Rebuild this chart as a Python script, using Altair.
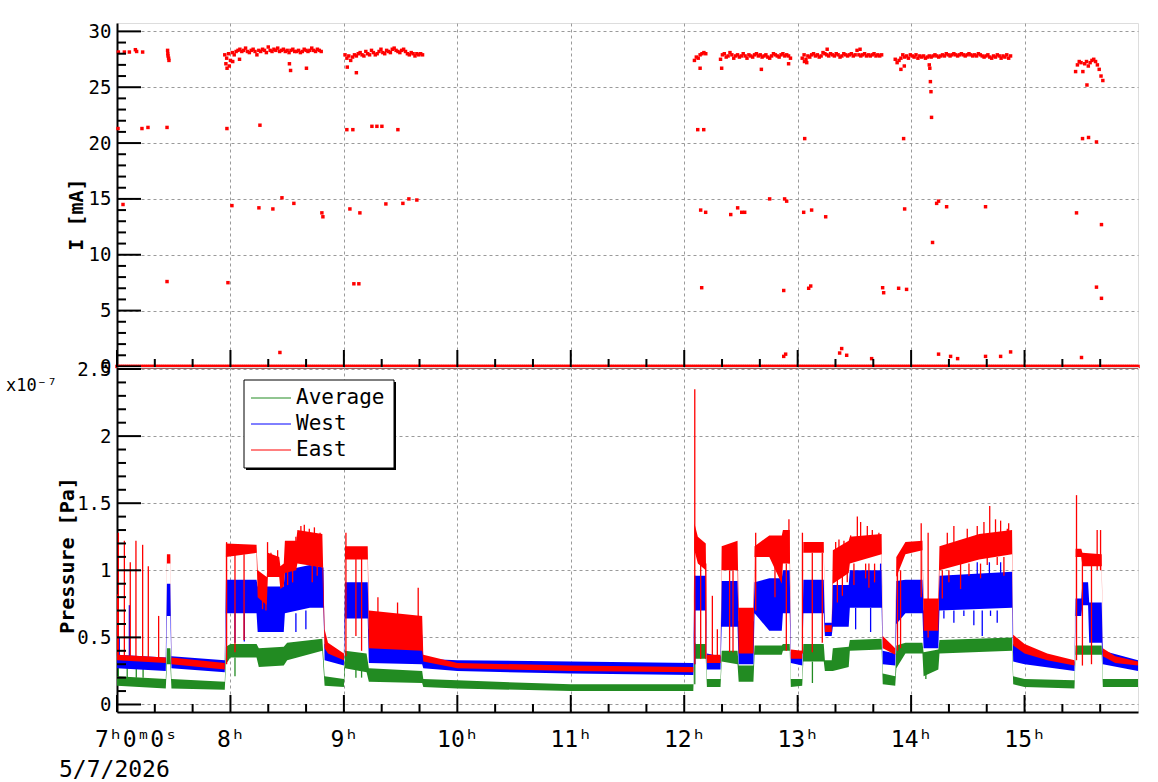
import altair as alt
import numpy as np
import pandas as pd

FONT = "DejaVu Sans Mono"
RED, BLUE, GREEN = "#ff0000", "#0000ff", "#228b22"

# ---------------- current I [mA] (top panel) ----------------
# sampling times of the 0 mA readings (every minute 7:00-16:00)
ZERO_T = list(np.arange(7.0, 16.0001, 1 / 60))

# dense beam-on clusters: (start hour, values every minute)
C3_START = 7.95
C3 = [27.9, 27.6, 28.0, 27.4, 28.1, 27.9, 28.2, 28.3, 28.4, 28.2, 28.3, 28.5, 28.2, 28.1, 28.3, 28.4,
      28.2, 27.9, 28.3, 28.2, 28.4, 28.3, 28.1, 28.6, 28.3, 28.2, 28.4, 28.3, 28.5, 28.2, 28.3, 28.4,
      28.2, 28.3, 28.1, 28.3, 28.4, 28.2, 28.2, 28.3, 28.1, 28.2, 28.4, 28.3, 28.2, 28.3, 28.5, 28.3,
      28.2, 28.4, 28.3, 28.2]
C4_START = 9.01
C4 = [27.9, 27.6, 27.8, 27.4, 27.7, 27.9, 27.8, 28.0, 28.1, 27.9, 27.8, 28.2, 28.0, 27.9, 28.3, 28.1,
      27.9, 28.0, 28.2, 28.4, 28.1, 28.0, 28.3, 28.2, 28.1, 28.4, 28.5, 28.3, 28.2, 28.1, 28.3, 28.4,
      28.2, 28.0, 27.9, 28.1, 28.0, 27.8, 28.0, 27.9, 28.0, 27.9]
C5_START = 12.09
C5 = [27.4, 27.7, 27.6, 27.9, 28.0, 28.1, 28.0]
C6_START = 12.32
C6 = [27.5, 27.9, 28.0, 27.7, 27.8, 28.1, 27.9, 27.6, 27.8, 27.9, 27.7, 27.8, 28.0, 27.8, 27.6, 27.9,
      27.8, 27.7, 27.9, 28.0, 27.8, 27.9, 27.7, 27.8, 27.9, 27.7, 27.6, 27.8, 28.0, 27.9, 27.8, 27.7,
      27.9, 28.0, 27.8, 27.9, 27.8, 27.6]
C7_START = 13.04
C7 = [27.6, 27.9, 27.5, 27.8, 27.7, 27.9, 28.0, 27.8, 27.9, 27.7, 27.8, 28.1, 28.0, 27.9, 27.8, 28.0,
      27.9, 27.8, 28.0, 27.9, 27.7, 27.8, 28.0, 27.9, 27.8, 27.9, 28.0, 27.8, 27.9, 28.3, 27.9, 27.8,
      27.9, 28.0, 27.8, 27.9, 27.8, 27.9, 28.0, 27.8, 27.9, 27.8, 27.9]
C8_START = 13.86
C8 = [27.5, 27.2, 27.4, 27.6, 27.9, 27.7, 27.8, 27.6, 27.9, 27.8, 27.7, 27.9, 27.6, 27.8, 27.7, 27.8,
      27.6, 27.7, 27.8, 27.7, 27.8, 27.9, 27.8, 27.7, 27.8, 27.9, 27.8, 28.0, 27.9, 27.8, 27.9, 28.0,
      27.9, 27.8, 27.9, 28.0, 27.9, 27.8, 27.9, 28.0, 27.9, 27.8, 27.9, 27.8, 28.0, 27.9, 27.8, 27.7,
      27.8, 27.9, 27.7, 27.6, 27.8, 27.7, 27.9, 27.8, 27.6, 27.8, 27.7, 27.9, 27.6, 27.8]
C9_START = 15.45
C9 = [26.4, 27.0, 27.3, 27.2, 26.4, 27.1, 27.3, 26.9, 27.2, 27.4, 27.5, 27.3, 27.0, 26.6, 26.0, 25.6]

# isolated readings (hour, mA)
ISO_T = [7.012, 7.065, 7.109, 7.162, 7.173, 7.226, 7.446, 7.448, 7.450, 7.455, 7.458,
         7.96, 7.97, 7.99, 8.02, 8.08, 8.52, 8.53, 8.67, 9.03, 9.11, 12.14, 12.33, 12.68, 12.92,
         13.06, 13.08, 13.26, 13.55, 13.91, 13.94, 14.16, 14.165, 14.17, 14.175, 14.18, 15.55,
         7.009, 7.053, 7.220, 7.273, 7.441, 7.441, 7.969, 7.978, 8.013, 8.260, 8.251, 8.374, 8.454,
         8.559, 8.436, 8.806, 8.815, 9.026, 9.079, 9.053, 9.141, 9.088, 9.132, 9.247, 9.291, 9.335,
         9.370, 9.476, 9.520, 9.573, 9.643, 12.119, 12.172, 12.145, 12.189, 12.154, 12.410, 12.471,
         12.507, 12.533, 12.753, 12.885, 12.903, 12.877, 12.877, 12.894, 13.062, 13.053, 13.123,
         13.247, 13.097, 13.115, 13.388, 13.370, 13.432, 13.652, 13.749, 13.758, 13.934, 13.943,
         13.890, 13.960, 14.189, 14.225, 14.242, 14.313, 14.242, 14.348, 14.410, 14.656, 14.656,
         14.789, 14.877, 15.458, 15.511, 15.564, 15.634, 15.678, 15.634, 15.678, 15.502]
ISO_I = [28.15, 28.15, 28.15, 28.36, 28.2, 28.15, 28.3, 28.0, 27.8, 27.6, 27.4,
         27.1, 26.7, 26.9, 27.3, 27.5, 27.1, 26.5, 26.7, 26.8, 26.3, 26.7, 26.7, 26.6, 27.1,
         27.3, 27.2, 28.4, 28.4, 26.6, 26.9, 27.0, 26.7, 25.5, 24.6, 22.3, 25.2,
         21.3, 14.5, 21.3, 21.4, 21.4, 7.6, 21.3, 7.5, 14.4, 21.6, 14.2, 14.1, 15.1,
         14.6, 1.25, 13.75, 13.4, 21.2, 21.2, 14.1, 13.75, 7.4, 7.4, 21.5, 21.5, 21.5,
         14.55, 21.2, 14.6, 15.0, 14.9, 21.2, 21.2, 14.0, 13.8, 7.05, 13.6, 14.2,
         13.8, 13.8, 15.0, 15.0, 14.8, 6.8, 0.9, 1.1, 20.4, 13.8, 14.0,
         13.4, 7.0, 7.2, 1.6, 1.2, 1.0, 0.7, 7.05, 6.6, 20.4, 14.1,
         7.0, 6.9, 11.1, 14.6, 14.8, 14.3, 1.1, 0.9, 0.7, 14.3, 0.9,
         0.9, 1.3, 13.75, 20.4, 20.5, 20.1, 12.7, 7.1, 6.1, 0.8]

# ---------------- pressure [1e-7 Pa] (bottom panel): dense-band envelope lo/hi ----------------
G_T = [7.00, 7.43, 7.44, 7.47, 7.48, 7.95, 7.96, 8.00, 8.23, 8.25, 8.47, 8.50, 8.81, 8.83, 9.00, 9.01,
       9.20, 9.22, 9.69, 9.70, 10.0, 11.0, 12.08, 12.09, 12.19, 12.20, 12.32, 12.33, 12.47, 12.48,
       12.61, 12.62, 12.86, 12.87, 12.93, 12.94, 13.04, 13.05, 13.23, 13.24, 13.30, 13.31, 13.45,
       13.46, 13.74, 13.75, 13.86, 13.87, 13.95, 14.10, 14.11, 14.24, 14.25, 14.89, 14.90, 15.0,
       15.44, 15.45, 15.68, 15.69, 16.0]
G_LO = [0.14, 0.12, 0.30, 0.30, 0.12, 0.11, 0.30, 0.35, 0.35, 0.28, 0.29, 0.33, 0.40, 0.14, 0.13, 0.27,
        0.24, 0.17, 0.16, 0.13, 0.12, 0.10, 0.10, 0.34, 0.34, 0.13, 0.13, 0.32, 0.30, 0.17,
        0.17, 0.37, 0.37, 0.40, 0.40, 0.13, 0.14, 0.32, 0.32, 0.25, 0.25, 0.25, 0.28,
        0.40, 0.41, 0.15, 0.14, 0.27, 0.38, 0.38, 0.21, 0.26, 0.38, 0.40, 0.15, 0.13,
        0.12, 0.37, 0.37, 0.13, 0.13]
G_HI = [0.21, 0.19, 0.42, 0.42, 0.19, 0.17, 0.43, 0.45, 0.45, 0.42, 0.43, 0.46, 0.49, 0.21, 0.19, 0.40,
        0.38, 0.27, 0.25, 0.19, 0.18, 0.15, 0.15, 0.45, 0.45, 0.19, 0.19, 0.40, 0.40, 0.29,
        0.29, 0.44, 0.44, 0.45, 0.45, 0.19, 0.19, 0.45, 0.45, 0.33, 0.33, 0.42, 0.43,
        0.48, 0.49, 0.23, 0.21, 0.44, 0.46, 0.46, 0.39, 0.41, 0.48, 0.50, 0.21, 0.19,
        0.18, 0.44, 0.44, 0.19, 0.19]

W_T = [7.00, 7.43, 7.44, 7.47, 7.48, 7.95, 7.96, 8.23, 8.24, 8.47, 8.48, 8.70, 8.82, 8.83, 9.00, 9.01,
       9.21, 9.22, 9.69, 9.70, 10.0, 11.0, 12.08, 12.09, 12.19, 12.20, 12.32, 12.33, 12.47, 12.48,
       12.61, 12.62, 12.75, 12.86, 12.87, 12.93, 12.94, 13.04, 13.05, 13.23, 13.24, 13.30, 13.31,
       13.45, 13.46, 13.74, 13.75, 13.86, 13.87, 13.95, 14.10, 14.11, 14.24, 14.25, 14.89, 14.90,
       15.0, 15.44, 15.45, 15.50, 15.51, 15.56, 15.57, 15.68, 15.69, 16.0]
W_LO = [0.27, 0.25, 0.66, 0.66, 0.27, 0.24, 0.68, 0.68, 0.54, 0.54, 0.68, 0.72, 0.72, 0.33, 0.29, 0.64,
        0.64, 0.31, 0.30, 0.27, 0.25, 0.23, 0.22, 0.70, 0.70, 0.26, 0.26, 0.58, 0.58, 0.30,
        0.30, 0.68, 0.55, 0.55, 0.68, 0.68, 0.31, 0.29, 0.68, 0.68, 0.51, 0.51, 0.58,
        0.58, 0.72, 0.72, 0.30, 0.29, 0.60, 0.68, 0.68, 0.42, 0.42, 0.70, 0.72, 0.32,
        0.30, 0.25, 0.66, 0.66, 0.74, 0.74, 0.46, 0.46, 0.30, 0.25]
W_HI = [0.37, 0.35, 0.90, 0.90, 0.36, 0.33, 0.93, 0.93, 0.88, 0.88, 1.00, 1.04, 1.02, 0.45, 0.37, 0.91,
        0.91, 0.56, 0.52, 0.34, 0.33, 0.32, 0.31, 0.96, 0.96, 0.38, 0.36, 0.92, 0.92, 0.62,
        0.62, 0.91, 0.94, 0.94, 1.00, 1.00, 0.39, 0.40, 0.93, 0.93, 0.61, 0.61, 0.89,
        0.89, 1.00, 1.00, 0.40, 0.38, 0.92, 0.93, 0.93, 0.70, 0.70, 0.96, 0.99, 0.45,
        0.40, 0.32, 0.79, 0.79, 0.91, 0.91, 0.76, 0.76, 0.40, 0.33]

E_T = [7.00, 7.43, 7.44, 7.47, 7.48, 7.95, 7.96, 8.23, 8.24, 8.32, 8.33, 8.43, 8.44, 8.47, 8.48, 8.58,
       8.59, 8.81, 8.83, 8.86, 9.00, 9.01, 9.21, 9.22, 9.69, 9.70, 10.0, 11.0, 12.08, 12.09, 12.12,
       12.19, 12.20, 12.32, 12.33, 12.47, 12.48, 12.61, 12.62, 12.75, 12.86, 12.87, 12.93, 12.94,
       13.04, 13.05, 13.23, 13.24, 13.30, 13.31, 13.45, 13.46, 13.74, 13.75, 13.86, 13.87, 13.95,
       14.10, 14.11, 14.24, 14.25, 14.60, 14.89, 14.90, 15.0, 15.2, 15.44, 15.45, 15.50, 15.51,
       15.68, 15.69, 15.8, 16.0]
E_LO = [0.33, 0.31, 1.05, 1.05, 0.30, 0.26, 1.10, 1.13, 0.80, 0.74, 0.95, 0.95, 0.86, 0.88, 0.98, 1.00,
        1.05, 1.02, 0.42, 0.38, 0.33, 1.08, 1.08, 0.42, 0.40, 0.32, 0.27, 0.25, 0.24, 1.15, 1.05,
        1.00, 0.31, 0.31, 1.00, 1.00, 0.38, 0.38, 1.10, 1.10, 0.90, 1.05, 1.05, 0.34,
        0.34, 1.13, 1.13, 0.54, 0.54, 0.90, 0.98, 1.05, 1.12, 0.42, 0.37, 0.95, 1.12,
        1.15, 0.55, 0.55, 1.00, 1.08, 1.12, 0.44, 0.38, 0.33, 0.29, 1.10, 1.10, 1.03,
        1.03, 0.36, 0.31, 0.29]
E_HI = [0.37, 0.35, 1.12, 1.12, 0.35, 0.31, 1.20, 1.19, 1.00, 0.95, 1.13, 1.10, 1.03, 1.05, 1.22, 1.22,
        1.30, 1.27, 0.56, 0.46, 0.38, 1.18, 1.18, 0.70, 0.66, 0.37, 0.31, 0.29, 0.28, 1.35, 1.25,
        1.20, 0.37, 0.37, 1.18, 1.22, 0.72, 0.72, 1.18, 1.26, 1.26, 1.30, 1.30, 0.41,
        0.40, 1.21, 1.21, 0.59, 0.59, 1.15, 1.22, 1.25, 1.27, 0.51, 0.42, 1.10, 1.21,
        1.22, 0.79, 0.79, 1.18, 1.27, 1.30, 0.52, 0.45, 0.38, 0.33, 1.16, 1.16, 1.13,
        1.12, 0.42, 0.36, 0.32]

# single excursions beyond the dense band (hour, from, to)
E_SP_T = [7.005, 7.012, 7.065, 7.117, 7.167, 7.226, 7.276, 7.367, 7.966, 8.04, 8.12,
          8.283, 8.313, 8.327, 8.357, 8.416, 8.504, 8.548, 8.577, 8.621, 8.651, 8.695, 8.721, 8.74,
          8.765, 8.79, 9.018, 9.106, 9.156, 9.30, 9.473, 9.655, 12.093, 12.145, 12.19, 12.248,
          12.292, 12.40, 12.43, 12.63, 12.80, 12.90, 12.923, 13.042, 13.129, 13.217,
          13.335, 13.350, 13.364, 13.394, 13.408, 13.437, 13.467, 13.496, 13.526, 13.555, 13.599,
          13.614, 13.628, 13.658, 13.678, 13.716, 13.88, 13.907, 14.089, 14.15,
          14.275, 14.319, 14.333, 14.377, 14.436, 14.495, 14.510, 14.583, 14.612, 14.642, 14.671,
          14.693, 14.744, 14.759, 14.789, 14.818, 14.848, 14.86, 15.458, 15.51, 15.59, 15.64, 15.67]
E_SP_A = [0.36, 0.36, 0.36, 0.35, 0.35, 0.34, 0.34, 0.33, 0.30, 1.12, 1.12,
          0.80, 0.78, 1.00, 1.00, 1.00, 1.00, 1.00, 1.20, 1.25, 1.25, 1.25, 1.05, 1.25,
          1.05, 1.25, 0.36, 1.10, 1.10, 0.60, 0.60, 0.60, 0.30, 1.10, 1.05, 0.36,
          0.36, 1.00, 1.00, 0.70, 1.10, 1.05, 1.05, 0.38, 1.13, 1.13,
          1.10, 0.95, 1.10, 0.95, 1.10, 1.00, 1.20, 1.05, 1.20, 1.20, 1.05,
          1.20, 1.05, 1.20, 1.05, 1.20, 0.40, 0.42, 0.80, 0.50,
          1.00, 1.15, 1.00, 1.15, 1.05, 1.20, 1.05, 1.20, 1.05, 1.20, 1.10,
          1.20, 1.20, 1.10, 1.20, 1.10, 1.25, 1.20, 0.33, 1.10, 1.05, 1.00, 1.00]
E_SP_B = [0.82, 1.28, 1.22, 1.06, 1.22, 1.19, 1.03, 0.66, 1.21, 0.39, 0.48,
          0.71, 0.70, 1.21, 1.13, 1.15, 0.89, 0.91, 1.25, 1.33, 1.34, 1.31, 0.91, 1.32,
          0.96, 1.28, 1.28, 0.51, 0.40, 0.80, 0.76, 0.87, 2.35, 0.34, 0.34, 0.81,
          0.56, 0.39, 0.39, 1.28, 0.80, 0.40, 1.38, 1.28, 0.39, 0.46,
          1.21, 0.76, 1.23, 0.81, 1.22, 0.91, 1.26, 0.89, 1.40, 1.36, 0.94,
          1.33, 0.87, 1.30, 0.91, 1.28, 1.10, 1.00, 1.35, 1.28,
          0.79, 1.28, 0.91, 1.33, 0.86, 1.31, 0.96, 1.33, 0.94, 1.36, 1.04,
          1.48, 1.38, 1.04, 1.37, 0.96, 1.31, 1.35, 1.56, 0.29, 0.30, 1.30, 1.30]
W_SP_T = [7.02, 7.109, 8.04, 8.122, 8.577, 8.665, 8.765, 12.093, 13.511, 13.643, 13.731,
          14.289, 14.377, 14.465, 14.553, 14.583, 14.627, 14.69, 14.70, 14.759, 14.789]
W_SP_A = [0.30, 0.30, 0.68, 0.68, 0.68, 0.70, 1.00, 0.30, 0.72, 0.72, 1.00,
          0.70, 0.70, 0.70, 0.70, 0.96, 0.70, 0.96, 0.70, 0.70, 0.96]
W_SP_B = [0.50, 0.74, 0.46, 0.47, 0.54, 0.56, 1.08, 0.96, 0.56, 0.54, 1.05,
          0.64, 0.61, 0.66, 0.59, 1.06, 0.51, 1.06, 0.66, 0.61, 1.06]
G_SP_T = [7.012, 7.09, 7.17, 7.23, 8.04, 9.106, 9.156, 12.093, 13.13, 14.13]
G_SP_A = [0.20, 0.20, 0.20, 0.20, 0.35, 0.27, 0.27, 0.15, 0.32, 0.30]
G_SP_B = [0.39, 0.29, 0.29, 0.34, 0.21, 0.20, 0.20, 0.46, 0.16, 0.19]

# axis tick positions
HOURS = list(range(7, 16))
MINOR_X = [h + m / 60 for h in range(7, 16) for m in (20, 40)]
I_MAJOR = list(range(0, 31, 5))
I_MINOR = [v for v in range(0, 31) if v % 5]
P_MAJOR = [0, 0.5, 1, 1.5, 2, 2.5]
P_MINOR = [round(v / 10, 1) for v in range(1, 25) if v % 5]

LEGEND_NAMES = ["Average", "West", "East"]
LEGEND_COLORS = [GREEN, BLUE, RED]

W = 1021
H_TOP = 344
H_BOT = 345
X_DOM = [7.0, 16.0]
I_DOM = [-0.05, 30.75]
P_DOM = [-0.056, 2.515]

# ---------------- build frames ----------------
cur_t, cur_i = list(ZERO_T), [0.0] * len(ZERO_T)
for start, vals in [(C3_START, C3), (C4_START, C4), (C5_START, C5), (C6_START, C6),
                    (C7_START, C7), (C8_START, C8), (C9_START, C9)]:
    step = 1 / 60 if start != C9_START else 0.016
    for k, v in enumerate(vals):
        cur_t.append(start + k * step)
        cur_i.append(v)
cur_t += ISO_T
cur_i += ISO_I
cur_df = pd.DataFrame({"t": cur_t, "v": cur_i})


def band(T, LO, HI):
    return pd.DataFrame({"t": T, "v": LO, "v2": HI})


xs = alt.Scale(domain=X_DOM, nice=False, zero=False)
i_scale = alt.Scale(domain=I_DOM, nice=False, zero=False)
p_scale = alt.Scale(domain=P_DOM, nice=False, zero=False)

grid_kw = dict(grid=True, gridColor="#9a9a9a", gridDash=[3, 3], gridWidth=1, ticks=False,
               domainColor="black", domainWidth=2, labelFont=FONT, labelColor="black",
               labelFlush=False, titleFont=FONT, titleColor="black")

top_x_axis = alt.Axis(values=HOURS[1:], labels=False, title=None, **grid_kw)
top_y_axis = alt.Axis(values=I_MAJOR, format="d", labelFontSize=19, labelPadding=6,
                      title="I [mA]", titleFontSize=20, titleFontWeight="bold", titleAngle=270,
                      titleBaseline="middle", titleAlign="center", titleX=-41, titleY=191, **grid_kw)
bot_x_axis = alt.Axis(values=HOURS, title=None, labelFontSize=23, labelPadding=16,
                      labelExpr="datum.value == 7 ? '7ʰ0ᵐ0ˢ' : datum.value + 'ʰ'",
                      labelOffset={"condition": {"test": "datum.value == 7", "value": 19}, "value": 0},
                      **grid_kw)
bot_y_axis = alt.Axis(values=P_MAJOR, format=".1~f", labelFontSize=19, labelPadding=6,
                      title="Pressure [Pa]", titleFontSize=20, titleFontWeight="bold", titleAngle=270,
                      titleBaseline="middle", titleAlign="center", titleX=-50, titleY=188, **grid_kw)


def yticks(vals, length, ysc, xax, yax):
    return alt.Chart(pd.DataFrame({"v": vals})).mark_rule(color="black", strokeWidth=2).encode(
        y=alt.Y("v:Q", scale=ysc, axis=yax),
        x=alt.value(0), x2=alt.value(length))


def xticks(vals, length, h, xax):
    return alt.Chart(pd.DataFrame({"t": vals})).mark_rule(color="black", strokeWidth=2).encode(
        x=alt.X("t:Q", scale=xs, axis=xax),
        y=alt.value(h), y2=alt.value(h - length))


# ---- top panel ----
top_pts = alt.Chart(cur_df).mark_square(size=12, color=RED, opacity=1, clip=False).encode(
    x=alt.X("t:Q", scale=xs, axis=top_x_axis),
    y=alt.Y("v:Q", scale=i_scale, axis=top_y_axis),
)

top = alt.layer(
    top_pts,
    yticks(I_MAJOR, 24, i_scale, top_x_axis, top_y_axis),
    yticks(I_MINOR, 9, i_scale, top_x_axis, top_y_axis),
    xticks(HOURS, 17, H_TOP, top_x_axis), xticks(MINOR_X, 8, H_TOP, top_x_axis),
).properties(width=W, height=H_TOP)


# ---- bottom panel ----
def area(df, color):
    return alt.Chart(df).mark_area(color=color, opacity=1, interpolate="linear").encode(
        x=alt.X("t:Q", scale=xs, axis=bot_x_axis),
        y=alt.Y("v:Q", scale=p_scale, axis=bot_y_axis),
        y2="v2:Q")


def spikes(T, A, B, color):
    return alt.Chart(pd.DataFrame({"t": T, "v": A, "v2": B})).mark_rule(
        color=color, strokeWidth=1.3).encode(
        x=alt.X("t:Q", scale=xs, axis=bot_x_axis),
        y=alt.Y("v:Q", scale=p_scale, axis=bot_y_axis), y2="v2:Q")


one = pd.DataFrame({"k": [0]})
legend_layers = [
    alt.Chart(one).mark_rect(fill="black").encode(
        x=alt.value(129), x2=alt.value(279), y=alt.value(15), y2=alt.value(103)),
    alt.Chart(one).mark_rect(fill="white", stroke="black", strokeWidth=1).encode(
        x=alt.value(127), x2=alt.value(277), y=alt.value(13), y2=alt.value(101)),
]
for i, (name, col) in enumerate(zip(LEGEND_NAMES, LEGEND_COLORS)):
    legend_layers.append(alt.Chart(one).mark_rule(color=col, strokeWidth=1).encode(
        x=alt.value(134), x2=alt.value(174), y=alt.value(31 + 26 * i)))
    legend_layers.append(alt.Chart(one).mark_text(
        text=name, align="left", baseline="middle", font=FONT, fontSize=21, color="black").encode(
        x=alt.value(179), y=alt.value(31 + 26 * i)))

exp_text = alt.Chart(one).mark_text(text="x10⁻⁷", align="left", baseline="alphabetic", font=FONT,
                                    fontSize=17, color="black").encode(
    x=alt.value(-111), y=alt.value(24))
date_text = alt.Chart(one).mark_text(text="5/7/2026", align="left", baseline="alphabetic", font=FONT,
                                     fontSize=23, color="black").encode(
    x=alt.value(-58), y=alt.value(410))

bottom = alt.layer(
    area(band(G_T, G_LO, G_HI), GREEN),
    spikes(G_SP_T, G_SP_A, G_SP_B, GREEN),
    area(band(W_T, W_LO, W_HI), BLUE),
    spikes(W_SP_T, W_SP_A, W_SP_B, BLUE),
    area(band(E_T, E_LO, E_HI), RED),
    spikes(E_SP_T, E_SP_A, E_SP_B, RED),
    yticks(P_MAJOR, 24, p_scale, bot_x_axis, bot_y_axis),
    yticks(P_MINOR, 9, p_scale, bot_x_axis, bot_y_axis),
    xticks(HOURS, 17, H_BOT, bot_x_axis), xticks(MINOR_X, 8, H_BOT, bot_x_axis),
    *legend_layers, exp_text, date_text,
).properties(width=W, height=H_BOT)

chart = alt.vconcat(top, bottom, spacing=0, bounds="flush").properties(
    padding={"left": 5, "top": 21, "right": 5, "bottom": 2}
).configure_view(stroke="black", strokeWidth=1.5).configure(background="white")

chart.save("out.html", embed_options={"renderer": "svg", "actions": False})
